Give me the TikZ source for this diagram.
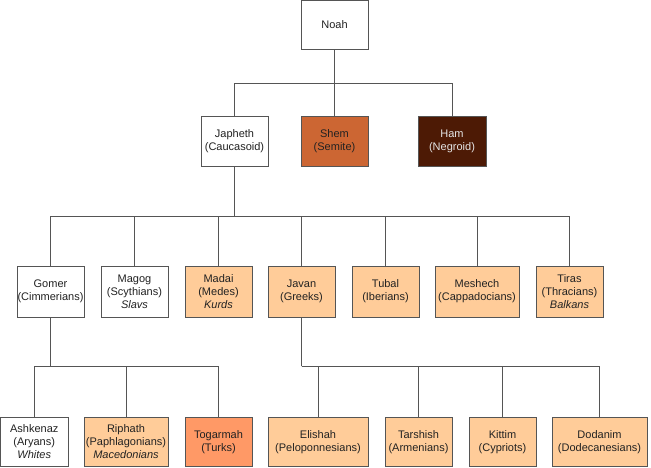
\documentclass[tikz,border=0pt]{standalone}
\usepackage{fontspec}
\setmainfont{Liberation Sans}
\definecolor{peach}{HTML}{FFCC99}
\definecolor{shemc}{HTML}{CC6633}
\definecolor{hamc}{HTML}{4D1A05}
\definecolor{togc}{HTML}{FF9966}
\definecolor{linec}{HTML}{555555}
\definecolor{textc}{HTML}{222222}
\tikzset{
  box/.style={draw=linec, line width=0.8pt, rectangle, inner sep=0pt, align=center,
    font=\fontsize{11}{13}\selectfont, text=textc, fill=white},
  conn/.style={draw=linec, line width=0.8pt},
}
% \bx{name}{x1}{y1}{x2}{y2}{style}{text}
\newcommand{\bx}[7]{%
  \pgfmathsetmacro{\bw}{#4-#2}\pgfmathsetmacro{\bh}{#5-#3}%
  \node[box, minimum width=\bw pt, minimum height=\bh pt, #6] (#1) at ({(#2+#4)/2},{(#3+#5)/2}) {#7};}
\begin{document}
\begin{tikzpicture}[x=1pt,y=-1pt]
\useasboundingbox (0,0) rectangle (651,467);
% row 0
\bx{noah}{301}{0.5}{368}{49}{}{Noah}
% row 1
\bx{japheth}{201}{116}{268}{166}{}{Japheth\\(Caucasoid)}
\bx{shem}{301}{116}{368}{166}{fill=shemc}{Shem\\(Semite)}
\bx{ham}{418}{116}{486}{166}{fill=hamc, text=white!90!black}{Ham\\(Negroid)}
% row 2
\bx{gomer}{17}{266}{84}{317}{}{Gomer\\(Cimmerians)}
\bx{magog}{101}{266}{168}{317}{}{Magog\\(Scythians)\\\textit{Slavs}}
\bx{madai}{185}{266}{252}{317}{fill=peach}{Madai\\(Medes)\\\textit{Kurds}}
\bx{javan}{268}{266}{335}{317}{fill=peach}{Javan\\(Greeks)}
\bx{tubal}{352}{266}{419}{317}{fill=peach}{Tubal\\(Iberians)}
\bx{meshech}{435}{266}{519}{317}{fill=peach}{Meshech\\(Cappadocians)}
\bx{tiras}{536}{266}{603}{317}{fill=peach}{Tiras\\(Thracians)\\\textit{Balkans}}
% row 3
\bx{ashkenaz}{0.5}{417}{68}{466.5}{}{Ashkenaz\\(Aryans)\\\textit{Whites}}
\bx{riphath}{84}{417}{168}{466.5}{fill=peach}{Riphath\\(Paphlagonians)\\\textit{Macedonians}}
\bx{togarmah}{185}{417}{252}{466.5}{fill=togc}{Togarmah\\(Turks)}
\bx{elishah}{268}{417}{368}{466.5}{fill=peach}{Elishah\\(Peloponnesians)}
\bx{tarshish}{385}{417}{452}{466.5}{fill=peach}{Tarshish\\(Armenians)}
\bx{kittim}{469}{417}{536}{466.5}{fill=peach}{Kittim\\(Cypriots)}
\bx{dodanim}{552}{417}{647}{466.5}{fill=peach}{Dodanim\\(Dodecanesians)}
% connectors
\coordinate (b1) at (noah.south |- 0,83);
\draw[conn] (noah.south) -- (b1);
\draw[conn] (b1) -| (japheth.north);
\draw[conn] (b1) -- (shem.north);
\draw[conn] (b1) -| (ham.north);
\coordinate (b2) at (japheth.south |- 0,216);
\draw[conn] (japheth.south) -- (b2);
\foreach \c in {gomer,magog,madai,javan,tubal,meshech,tiras}
  \draw[conn] (b2) -| (\c.north);
\coordinate (b3) at (gomer.south |- 0,366);
\draw[conn] (gomer.south) -- (b3);
\foreach \c in {ashkenaz,riphath,togarmah}
  \draw[conn] (b3) -| (\c.north);
\coordinate (b4) at (javan.south |- 0,366);
\draw[conn] (javan.south) -- (b4);
\foreach \c in {elishah,tarshish,kittim,dodanim}
  \draw[conn] (b4) -| (\c.north);
\end{tikzpicture}
\end{document}
